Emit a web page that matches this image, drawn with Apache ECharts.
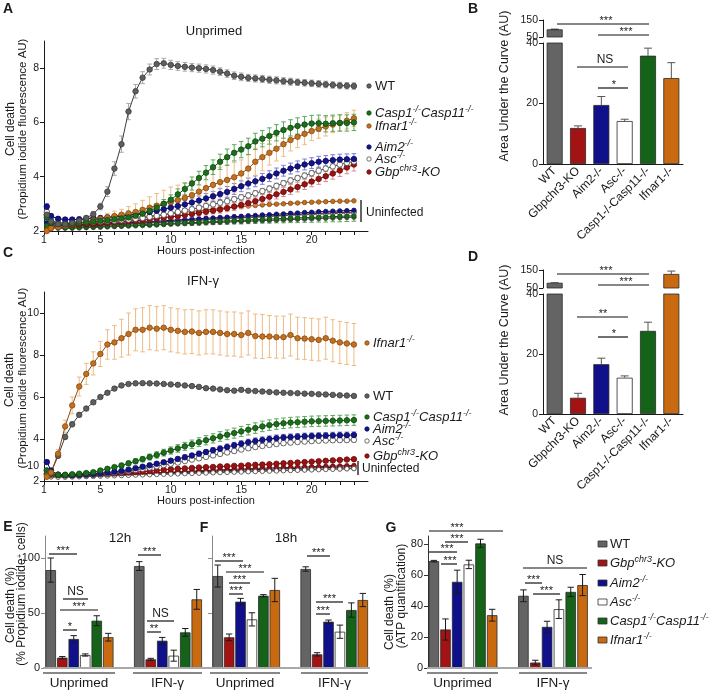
<!DOCTYPE html>
<html><head><meta charset="utf-8">
<script src="https://cdn.jsdelivr.net/npm/echarts@6/dist/echarts.min.js"></script>
<style>html,body{margin:0;padding:0;background:#fff}#c{width:716px;height:691px}</style>
</head><body><div id="c"></div>
<script>
const FONT = "'Liberation Sans', Arial, Helvetica, sans-serif";

// ---------------- DATA ----------------
const genotypes = ['WT','Gbpchr3-KO','Aim2-/-','Asc-/-','Casp1-/-Casp11-/-','Ifnar1-/-'];
const hours = [1.2,1.5,2,2.5,3,3.5,4,4.5,5,5.5,6,6.5,7,7.5,8,8.5,9,9.5,10,10.5,11,11.5,12,12.5,13,13.5,14,14.5,15,15.5,16,16.5,17,17.5,18,18.5,19,19.5,20,20.5,21,21.5,22,22.5,23];
const xTickLabels = [1,5,10,15,20];

// Panel A (unprimed kinetics)
const aWT = [2.6,2.35,2.25,2.25,2.3,2.38,2.48,2.62,2.9,3.45, 4.3,5.2,6.4,7.15,7.65,7.95,8.15,8.18,8.12,8.08, 8.05,8.02,8.0,7.97,7.93,7.87,7.8,7.72,7.68,7.64, 7.62,7.6,7.57,7.55,7.52,7.5,7.48,7.46,7.44,7.42, 7.4,7.38,7.36,7.35,7.34];
const aWTErr = [0.1,0.08,0.06,0.06,0.06,0.06,0.08,0.1,0.12,0.18, 0.25,0.3,0.3,0.25,0.22,0.2,0.2,0.18,0.17,0.16, 0.16,0.15,0.15,0.15,0.15,0.14,0.14,0.14,0.14,0.13, 0.13,0.13,0.13,0.13,0.13,0.13,0.12,0.12,0.12,0.12, 0.12,0.12,0.12,0.12,0.12];
const aCasp = [2.5,2.3,2.25,2.25,2.27,2.3,2.32,2.35,2.38,2.4, 2.43,2.46,2.5,2.56,2.64,2.74,2.86,3.0,3.15,3.35, 3.55,3.75,3.95,4.15,4.35,4.55,4.72,4.88,5.0,5.12, 5.3,5.4,5.5,5.62,5.72,5.8,5.87,5.92,5.96,5.97, 5.95,5.97,5.98,5.98,6.0];
const aCaspErr = [0.08,0.06,0.06,0.06,0.06,0.06,0.06,0.06,0.06,0.06, 0.07,0.07,0.08,0.08,0.1,0.12,0.14,0.16,0.18,0.2, 0.22,0.24,0.25,0.26,0.27,0.28,0.3,0.3,0.3,0.3, 0.3,0.3,0.3,0.3,0.3,0.3,0.3,0.3,0.3,0.3, 0.3,0.3,0.3,0.3,0.3];
const aIfnar = [2.0,2.1,2.15,2.2,2.25,2.3,2.35,2.4,2.45,2.5, 2.55,2.6,2.65,2.7,2.78,2.86,2.93,3.0,3.07,3.14, 3.22,3.32,3.45,3.58,3.7,3.8,3.88,3.98,4.12,4.3, 4.55,4.72,4.88,5.03,5.2,5.35,5.47,5.58,5.68,5.77, 5.85,5.92,5.98,6.06,6.15];
const aIfnarErr = [0.05,0.05,0.05,0.05,0.05,0.06,0.08,0.1,0.12,0.15, 0.18,0.2,0.25,0.3,0.35,0.4,0.45,0.5,0.55,0.55, 0.55,0.55,0.55,0.55,0.55,0.55,0.55,0.55,0.5,0.5, 0.5,0.5,0.45,0.45,0.45,0.4,0.4,0.4,0.35,0.35, 0.35,0.3,0.3,0.3,0.3];
const aAim2 = [2.9,2.55,2.45,2.42,2.42,2.43,2.45,2.47,2.48,2.5, 2.52,2.55,2.58,2.62,2.66,2.7,2.75,2.8,2.86,2.92, 2.98,3.05,3.12,3.2,3.28,3.36,3.44,3.55,3.65,3.75, 3.83,3.92,4.02,4.12,4.22,4.3,4.38,4.45,4.5,4.55, 4.58,4.61,4.63,4.64,4.65];
const aAim2Err = [0.1,0.08,0.08,0.08,0.08,0.08,0.08,0.08,0.08,0.08, 0.08,0.08,0.1,0.1,0.1,0.12,0.12,0.12,0.14,0.14, 0.15,0.16,0.17,0.18,0.18,0.2,0.2,0.2,0.2,0.2, 0.2,0.2,0.2,0.2,0.2,0.2,0.2,0.2,0.2,0.2, 0.2,0.2,0.2,0.2,0.2];
const aAsc = [2.7,2.4,2.3,2.3,2.3,2.3,2.32,2.33,2.35,2.37, 2.38,2.4,2.42,2.45,2.48,2.52,2.56,2.6,2.65,2.7, 2.75,2.8,2.86,2.92,2.98,3.04,3.1,3.17,3.24,3.31, 3.39,3.47,3.56,3.66,3.76,3.86,3.95,4.04,4.13,4.22, 4.3,4.38,4.45,4.51,4.56];
const aAscErr = [0.06,0.05,0.05,0.05,0.05,0.05,0.05,0.05,0.05,0.05, 0.05,0.05,0.05,0.06,0.06,0.06,0.06,0.07,0.07,0.07, 0.08,0.08,0.08,0.08,0.09,0.09,0.09,0.1,0.1,0.1, 0.1,0.1,0.1,0.1,0.1,0.1,0.1,0.1,0.1,0.1, 0.1,0.1,0.1,0.1,0.1];
const aGbp = [2.6,2.3,2.25,2.23,2.23,2.24,2.25,2.26,2.28,2.3, 2.32,2.34,2.36,2.38,2.4,2.43,2.46,2.49,2.52,2.55, 2.59,2.63,2.67,2.71,2.75,2.79,2.84,2.9,2.96,3.03, 3.1,3.18,3.26,3.35,3.44,3.53,3.62,3.72,3.82,3.92, 4.02,4.12,4.23,4.34,4.45];
const aGbpErr = [0.08,0.06,0.05,0.05,0.05,0.05,0.05,0.05,0.05,0.05, 0.06,0.06,0.06,0.07,0.07,0.08,0.08,0.09,0.09,0.1, 0.1,0.11,0.11,0.12,0.12,0.13,0.13,0.14,0.14,0.15, 0.15,0.16,0.16,0.17,0.17,0.18,0.18,0.19,0.19,0.2, 0.2,0.21,0.22,0.23,0.24];
const aUnIfnar = [2.05,2.1,2.15,2.18,2.2,2.23,2.26,2.29,2.33,2.37, 2.41,2.44,2.47,2.5,2.53,2.56,2.58,2.6,2.63,2.66, 2.69,2.72,2.75,2.78,2.8,2.83,2.86,2.88,2.9,2.92, 2.94,2.96,2.98,2.99,3.0,3.02,3.03,3.05,3.06,3.07, 3.08,3.09,3.1,3.1,3.11];
const aUnAim2 = [2.3,2.25,2.2,2.2,2.21,2.22,2.23,2.24,2.25,2.26, 2.28,2.29,2.3,2.32,2.33,2.35,2.36,2.38,2.39,2.41, 2.42,2.44,2.45,2.47,2.48,2.5,2.51,2.53,2.54,2.56, 2.57,2.59,2.6,2.62,2.63,2.65,2.66,2.68,2.69,2.71, 2.72,2.73,2.74,2.75,2.76];
const aUnGbp = [2.2,2.18,2.16,2.16,2.17,2.18,2.19,2.2,2.21,2.22, 2.23,2.24,2.25,2.27,2.28,2.3,2.31,2.33,2.34,2.36, 2.37,2.39,2.4,2.42,2.43,2.45,2.46,2.48,2.49,2.51, 2.52,2.54,2.55,2.57,2.58,2.6,2.61,2.62,2.64,2.65, 2.66,2.67,2.68,2.69,2.7];
const aUnWT = [2.15,2.12,2.1,2.1,2.1,2.11,2.12,2.13,2.14,2.15, 2.16,2.17,2.18,2.19,2.2,2.21,2.22,2.24,2.25,2.26, 2.27,2.28,2.29,2.3,2.31,2.32,2.33,2.34,2.35,2.36, 2.37,2.38,2.39,2.4,2.41,2.42,2.43,2.44,2.45,2.46, 2.47,2.48,2.49,2.5,2.51];
const aUnCasp = [2.2,2.15,2.12,2.12,2.13,2.14,2.15,2.16,2.17,2.18, 2.19,2.2,2.21,2.22,2.23,2.24,2.25,2.26,2.28,2.29, 2.3,2.31,2.32,2.33,2.35,2.36,2.37,2.38,2.39,2.4, 2.42,2.43,2.44,2.45,2.46,2.47,2.48,2.49,2.5,2.51, 2.52,2.53,2.54,2.55,2.56];
const aUnCaspErr = [0.03,0.03,0.03,0.03,0.03,0.03,0.03,0.04,0.04,0.04, 0.04,0.05,0.05,0.05,0.06,0.06,0.07,0.07,0.08,0.08, 0.09,0.09,0.1,0.1,0.11,0.11,0.12,0.12,0.13,0.13, 0.14,0.14,0.15,0.15,0.16,0.16,0.17,0.17,0.18,0.18, 0.19,0.19,0.2,0.2,0.2];
const aUnAsc = [2.25,2.2,2.18,2.18,2.19,2.2,2.21,2.22,2.23,2.24, 2.25,2.26,2.27,2.28,2.3,2.31,2.32,2.34,2.35,2.36, 2.38,2.39,2.4,2.42,2.43,2.44,2.46,2.47,2.48,2.5, 2.51,2.52,2.54,2.55,2.56,2.58,2.59,2.6,2.61,2.62, 2.63,2.64,2.65,2.66,2.67];

// Panel C (IFN-gamma kinetics)
const cIfnar = [2.2,2.4,3.3,4.6,5.6,6.5,7.1,7.6,8.05,8.5, 8.6,8.8,9.0,9.2,9.2,9.3,9.25,9.3,9.2,9.15, 9.1,9.12,9.05,9.1,9.1,9.05,9.0,9.0,8.95,9.05, 8.9,8.88,8.88,8.85,8.85,8.95,8.8,8.78,8.75,8.72, 8.8,8.68,8.6,8.55,8.5];
const cIfnarErr = [0.05,0.1,0.2,0.3,0.4,0.45,0.5,0.55,0.6,0.7, 0.8,0.9,1.0,1.0,1.05,1.05,1.05,1.05,1.05,1.05, 1.05,1.05,1.05,1.05,1.05,1.05,1.05,1.05,1.05,1.05, 1.05,1.05,1.0,1.0,1.0,1.0,1.0,1.0,1.0,1.0, 1.0,1.0,1.0,1.0,1.0];
const cWT = [2.3,2.4,3.2,4.1,4.7,5.15,5.45,5.75,6.0,6.2, 6.4,6.55,6.62,6.65,6.66,6.65,6.64,6.62,6.6,6.58, 6.55,6.52,6.48,6.42,6.4,6.36,6.32,6.3,6.34,6.3, 6.28,6.26,6.24,6.22,6.2,6.19,6.18,6.16,6.15,6.13, 6.12,6.1,6.08,6.07,6.05];
const cWTErr = [0.05,0.06,0.1,0.12,0.12,0.1,0.1,0.1,0.08,0.08, 0.08,0.08,0.07,0.07,0.07,0.07,0.07,0.07,0.07,0.07, 0.07,0.07,0.07,0.07,0.07,0.07,0.07,0.07,0.07,0.07, 0.07,0.07,0.07,0.07,0.07,0.07,0.07,0.07,0.07,0.07, 0.07,0.07,0.07,0.07,0.07];
const cCasp = [2.5,2.35,2.3,2.3,2.32,2.35,2.38,2.42,2.5,2.58, 2.66,2.74,2.84,2.94,3.04,3.14,3.24,3.35,3.45,3.55, 3.65,3.75,3.85,3.94,4.03,4.12,4.2,4.28,4.36,4.44, 4.52,4.6,4.66,4.71,4.75,4.78,4.8,4.82,4.84,4.85, 4.86,4.87,4.88,4.89,4.9];
const cCaspErr = [0.05,0.05,0.05,0.05,0.05,0.05,0.06,0.06,0.07,0.08, 0.09,0.1,0.11,0.12,0.13,0.14,0.15,0.16,0.17,0.18, 0.19,0.2,0.21,0.22,0.22,0.23,0.23,0.24,0.24,0.25, 0.25,0.25,0.25,0.25,0.25,0.25,0.25,0.25,0.25,0.25, 0.25,0.25,0.25,0.25,0.25];
const cAim2 = [2.9,2.5,2.3,2.28,2.28,2.3,2.32,2.34,2.37,2.4, 2.44,2.48,2.54,2.61,2.68,2.75,2.82,2.89,2.97,3.05, 3.13,3.21,3.3,3.38,3.46,3.54,3.62,3.7,3.77,3.84, 3.9,3.95,4.0,4.04,4.07,4.09,4.11,4.13,4.14,4.15, 4.16,4.17,4.18,4.18,4.19];
const cAim2Err = [0.1,0.06,0.05,0.05,0.05,0.05,0.05,0.05,0.05,0.05, 0.06,0.06,0.07,0.07,0.08,0.08,0.09,0.09,0.1,0.1, 0.11,0.11,0.12,0.12,0.13,0.13,0.14,0.14,0.15,0.15, 0.15,0.15,0.15,0.15,0.15,0.15,0.15,0.15,0.15,0.15, 0.15,0.15,0.15,0.15,0.15];
const cAsc = [2.5,2.35,2.3,2.28,2.28,2.29,2.3,2.32,2.34,2.37, 2.4,2.44,2.48,2.53,2.58,2.64,2.7,2.76,2.82,2.88, 2.95,3.02,3.08,3.15,3.22,3.29,3.36,3.43,3.5,3.56, 3.62,3.67,3.72,3.76,3.8,3.83,3.86,3.88,3.9,3.92, 3.93,3.94,3.95,3.95,3.96];
const cAscErr = [0.05,0.05,0.05,0.05,0.05,0.05,0.05,0.05,0.05,0.05, 0.05,0.05,0.06,0.06,0.06,0.07,0.07,0.07,0.08,0.08, 0.08,0.09,0.09,0.09,0.1,0.1,0.1,0.1,0.1,0.1, 0.1,0.1,0.1,0.1,0.1,0.1,0.1,0.1,0.1,0.1, 0.1,0.1,0.1,0.1,0.1];
const cGbp = [2.35,2.3,2.28,2.27,2.27,2.28,2.29,2.3,2.32,2.34, 2.36,2.38,2.4,2.42,2.44,2.47,2.5,2.53,2.56,2.58, 2.6,2.62,2.64,2.66,2.67,2.69,2.7,2.72,2.73,2.75, 2.77,2.78,2.8,2.82,2.84,2.86,2.88,2.9,2.92,2.94, 2.96,2.98,3.0,3.02,3.04];
const cGbpErr = [0.05,0.05,0.04,0.04,0.04,0.04,0.04,0.04,0.04,0.04, 0.04,0.04,0.04,0.04,0.05,0.05,0.05,0.05,0.05,0.05, 0.05,0.05,0.05,0.05,0.05,0.05,0.05,0.05,0.05,0.05, 0.06,0.06,0.06,0.06,0.06,0.06,0.06,0.06,0.06,0.06, 0.06,0.06,0.06,0.06,0.06];
const cUnWT = [2.25,2.2,2.18,2.18,2.19,2.2,2.21,2.22,2.23,2.24, 2.25,2.26,2.27,2.28,2.29,2.3,2.31,2.32,2.33,2.34, 2.35,2.36,2.37,2.38,2.39,2.4,2.41,2.42,2.43,2.44, 2.45,2.46,2.47,2.48,2.49,2.5,2.51,2.52,2.53,2.54, 2.55,2.56,2.57,2.58,2.59];
const cUnGbp = [2.3,2.25,2.22,2.22,2.23,2.24,2.25,2.26,2.28,2.29, 2.3,2.32,2.33,2.35,2.36,2.38,2.39,2.41,2.42,2.44, 2.45,2.47,2.48,2.5,2.51,2.53,2.54,2.56,2.57,2.58, 2.6,2.61,2.62,2.63,2.64,2.65,2.66,2.67,2.68,2.69, 2.7,2.71,2.72,2.73,2.74];
const cUnAim2 = [2.4,2.3,2.26,2.25,2.25,2.26,2.27,2.28,2.29,2.3, 2.31,2.32,2.33,2.34,2.35,2.36,2.38,2.39,2.4,2.41, 2.42,2.43,2.45,2.46,2.47,2.48,2.49,2.5,2.52,2.53, 2.54,2.55,2.56,2.57,2.58,2.59,2.6,2.61,2.62,2.63, 2.64,2.65,2.66,2.67,2.68];
const cUnIfnar = [2.2,2.2,2.2,2.21,2.22,2.23,2.24,2.25,2.26,2.27, 2.28,2.29,2.3,2.31,2.32,2.33,2.34,2.35,2.36,2.37, 2.38,2.39,2.4,2.41,2.42,2.43,2.44,2.45,2.46,2.47, 2.48,2.49,2.5,2.5,2.51,2.52,2.53,2.54,2.55,2.56, 2.57,2.58,2.58,2.59,2.6];

// Panels B / D (area under the curve)
const aucUnprimed = [95, 11.9, 19.5, 14.2, 35.8, 28.4];
const aucUnprimedErr = [1, 0.7, 2.8, 0.6, 2.5, 5.1];
const aucIfng = [79, 5.4, 16.6, 12.1, 27.7, 128];
const aucIfngErr = [1, 1.5, 2, 0.6, 2.9, 16];
const aucLowTicks = [0, 20, 40];
const aucHighTicks = [50, 150];

// Panels E / F (% PI+ cells) and G (ATP)
const e12Unprimed = [89, 9.4, 26.4, 11.8, 43, 28];
const e12UnprimedErr = [11, 1, 3, 1, 4.5, 3.5];
const e12Ifng = [92.7, 7.9, 24.8, 11.2, 32.4, 62.4];
const e12IfngErr = [4, 0.9, 3, 5, 3.5, 9];
const f18Unprimed = [83.6, 27.9, 60.3, 44.2, 65.7, 70.9];
const f18UnprimedErr = [10, 3, 3, 6, 1, 10.6];
const f18Ifng = [90, 12.4, 42.1, 33, 52.7, 61.8];
const f18IfngErr = [2, 1.5, 1.5, 6, 6.5, 6];
const gAtpUnprimed = [68.8, 24.8, 55.5, 66.7, 80.2, 34];
const gAtpUnprimedErr = [0.5, 6.8, 7.5, 2.7, 2.7, 3.8];
const gAtpIfng = [46.5, 3.5, 26.5, 37.9, 49, 53.4];
const gAtpIfngErr = [3.8, 1.5, 3.6, 6, 3, 6.8];
const pctTicks = [0, 50, 100];
const atpTicks = [0, 20, 40, 60, 80];

// ---------------- STYLE ----------------
const sty = {
  WT:    {fill:'#5e5e5e', stroke:'#3c3c3c', err:'#a9a9a9'},
  Gbp:   {fill:'#9a1212', stroke:'#6a0a0a', err:'#d98c8c'},
  Aim2:  {fill:'#14148a', stroke:'#0a0a5c', err:'#7d7dd8'},
  Asc:   {fill:'#ffffff', stroke:'#4a4a4a', err:'#9a9a9a'},
  Casp:  {fill:'#1c6d1c', stroke:'#0e4a0e', err:'#5ca85c'},
  Ifnar: {fill:'#c2701e', stroke:'#8a4a10', err:'#edbb85'}
};
const barFill = ['#646464','#a31313','#10108a','#ffffff','#146318','#c96a10'];

const chart = echarts.init(document.getElementById('c'), null, {renderer:'canvas'});

function lineS(g, vals, key, size, z){
  return {type:'line', xAxisIndex:g, yAxisIndex:g, data: hours.map((h,i)=>[h, vals[i]]),
    symbol:'circle', symbolSize:size, showSymbol:true, silent:true, z:z,
    lineStyle:{color:sty[key].stroke, width:1},
    itemStyle:{color:sty[key].fill, borderColor:sty[key].stroke, borderWidth:0.8}};
}
function errRender(cap, color, oneSided){
  return function(params, api){
    const x = api.value(0), lo = api.value(1), hi = api.value(2);
    const a = api.coord([x, lo]), b = api.coord([x, hi]);
    const st = {stroke:color, lineWidth:1};
    const ch = [
      {type:'line', shape:{x1:a[0], y1:a[1], x2:b[0], y2:b[1]}, style:st},
      {type:'line', shape:{x1:b[0]-cap, y1:b[1], x2:b[0]+cap, y2:b[1]}, style:st}];
    if (!oneSided) ch.push({type:'line', shape:{x1:a[0]-cap, y1:a[1], x2:a[0]+cap, y2:a[1]}, style:st});
    return {type:'group', children:ch};
  };
}
function errLineS(g, vals, errs, key, z){
  return {type:'custom', xAxisIndex:g, yAxisIndex:g, silent:true, z:z, encode:{x:0, y:[1,2]},
    data: hours.map((h,i)=>[h, vals[i]-errs[i], vals[i]+errs[i]]),
    renderItem: errRender(2.3, sty[key].err, false)};
}
function barS(g, vals, bw){
  return {type:'bar', xAxisIndex:g, yAxisIndex:g, barWidth:bw, silent:true, z:2,
    data: vals.map((v,i)=>({value:v, itemStyle:{color:barFill[i], borderColor:'#2a2a2a', borderWidth:0.8}}))};
}
// keep: predicate choosing which bars get an error bar in this grid
function errBarS(g, vals, errs, cap, oneSided, color, keep){
  const d = [];
  vals.forEach((v,i)=>{ if (!keep || keep(v)) d.push([i, oneSided ? v : v-errs[i], v+errs[i]]); });
  return {type:'custom', xAxisIndex:g, yAxisIndex:g, silent:true, z:3, encode:{x:0, y:[1,2]},
    data: d, renderItem: errRender(cap, color, oneSided)};
}

// ---------------- AXES ----------------
const axTxt = {fontFamily:FONT, color:'#1a1a1a', fontSize:10.5};
function timeX(g){
  return {type:'value', gridIndex:g, min:1, max:24, interval:1,
    axisLine:{show:true, lineStyle:{color:'#1a1a1a', width:1}},
    axisTick:{show:true, length:4, lineStyle:{color:'#1a1a1a'}},
    axisLabel:Object.assign({margin:4, showMinLabel:true, showMaxLabel:false,
      formatter:v => xTickLabels.indexOf(v) >= 0 ? String(v) : ''}, axTxt),
    splitLine:{show:false}};
}
function valY(g, min, max, ticks, opts){
  opts = opts || {};
  return {type:'value', gridIndex:g, min:min, max:max, show: opts.hide ? false : true,
    axisLine:{show:true, lineStyle:{color: opts.lineColor || '#1a1a1a', width:1}},
    axisTick:{show:true, length:4, customValues:ticks, lineStyle:{color: opts.lineColor || '#1a1a1a'}},
    axisLabel:Object.assign({show: !opts.noLabel, customValues:ticks, margin:5}, axTxt, {fontSize: opts.fs || 10.5}),
    splitLine:{show:false}};
}
function catX(g, show){
  return {type:'category', gridIndex:g, data:genotypes, show:show,
    axisLine:{show:show, lineStyle:{color:'#1a1a1a'}}, axisTick:{show:false},
    axisLabel:Object.assign({rotate:45, interval:0, margin:5}, axTxt, {fontSize:12})};
}

const grids = [
  {left:44, top:41, width:324, height:190},
  {left:44, top:292, width:324, height:189},
  {left:543, top:43, width:140, height:121},
  {left:543, top:20, width:140, height:17},
  {left:543, top:294, width:140, height:120},
  {left:543, top:270, width:140, height:18},
  {left:45, top:536, width:69, height:132},
  {left:133.5, top:536, width:69, height:132},
  {left:212, top:536, width:68.5, height:132},
  {left:300, top:536, width:68.5, height:132},
  {left:428, top:536, width:70, height:132},
  {left:517.5, top:536, width:71, height:132}
];

const xAxes = [timeX(0), timeX(1), catX(2,true), catX(3,false), catX(4,true), catX(5,false),
  catX(6,false), catX(7,false), catX(8,false), catX(9,false), catX(10,false), catX(11,false)];
const yAxes = [
  valY(0, 2, 9, [2,4,6,8]),
  valY(1, 2, 11, [2,4,6,8,10]),
  valY(2, 0, 40, aucLowTicks),
  valY(3, 50, 150, aucHighTicks),
  valY(4, 0, 40, aucLowTicks),
  valY(5, 50, 150, aucHighTicks),
  valY(6, 0, 120, pctTicks, {lineColor:'#8a8a8a', fs:11}),
  valY(7, 0, 120, pctTicks, {hide:true}),
  valY(8, 0, 120, pctTicks, {lineColor:'#8a8a8a', noLabel:true}),
  valY(9, 0, 120, pctTicks, {hide:true}),
  valY(10, 0, 85, atpTicks, {lineColor:'#333', fs:11}),
  valY(11, 0, 85, atpTicks, {hide:true})
];

// ---------------- SERIES ----------------
const series = [];
// A uninfected
series.push(lineS(0, aUnWT, 'WT', 4.5, 2));
series.push(lineS(0, aUnGbp, 'Gbp', 4.5, 2));
series.push(lineS(0, aUnAsc, 'Asc', 4.5, 2));
series.push(lineS(0, aUnAim2, 'Aim2', 4.5, 2));
series.push(errLineS(0, aUnCasp, aUnCaspErr, 'Casp', 2));
series.push(lineS(0, aUnCasp, 'Casp', 4.5, 2));
series.push(lineS(0, aUnIfnar, 'Ifnar', 4.5, 2));
// A infected
[[aGbp,aGbpErr,'Gbp'],[aAsc,aAscErr,'Asc'],[aAim2,aAim2Err,'Aim2'],[aIfnar,aIfnarErr,'Ifnar'],[aCasp,aCaspErr,'Casp'],[aWT,aWTErr,'WT']].forEach(s=>{
  series.push(errLineS(0, s[0], s[1], s[2], 3));
  series.push(lineS(0, s[0], s[2], 5.5, 3));
});
// C uninfected
series.push(lineS(1, cUnIfnar, 'Ifnar', 4.5, 2));
series.push(lineS(1, cUnAim2, 'Aim2', 4.5, 2));
series.push(lineS(1, cUnGbp, 'Gbp', 4.5, 2));
series.push(lineS(1, cUnWT, 'Asc', 4.5, 2));
// C infected
[[cGbp,cGbpErr,'Gbp'],[cAsc,cAscErr,'Asc'],[cAim2,cAim2Err,'Aim2'],[cCasp,cCaspErr,'Casp'],[cWT,cWTErr,'WT'],[cIfnar,cIfnarErr,'Ifnar']].forEach(s=>{
  series.push(errLineS(1, s[0], s[1], s[2], 3));
  series.push(lineS(1, s[0], s[2], 5.5, 3));
});
// B / D (broken axis: lower 0-40, upper 50-150)
const inLow = v => v <= 40, inHigh = v => v > 50;
series.push(barS(2, aucUnprimed, 16));
series.push(errBarS(2, aucUnprimed, aucUnprimedErr, 4, true, '#555', inLow));
series.push(barS(3, aucUnprimed.map(v => inHigh(v) ? v : '-'), 16));
series.push(errBarS(3, aucUnprimed, aucUnprimedErr, 4, true, '#222', inHigh));
series.push(barS(4, aucIfng, 16));
series.push(errBarS(4, aucIfng, aucIfngErr, 4, true, '#555', inLow));
series.push(barS(5, aucIfng.map(v => inHigh(v) ? v : '-'), 16));
series.push(errBarS(5, aucIfng, aucIfngErr, 4, true, '#555', inHigh));
// E / F / G
[[6,e12Unprimed,e12UnprimedErr],[7,e12Ifng,e12IfngErr],[8,f18Unprimed,f18UnprimedErr],[9,f18Ifng,f18IfngErr],[10,gAtpUnprimed,gAtpUnprimedErr],[11,gAtpIfng,gAtpIfngErr]].forEach(s=>{
  series.push(barS(s[0], s[1], 10.5));
  series.push(errBarS(s[0], s[1], s[2], 3.2, false, '#1a1a1a'));
});

// ---------------- ANNOTATIONS (layout) ----------------
const G = [];
function txt(x, y, t, o){
  o = o || {};
  G.push({type:'text', x:x, y:y, rotation:o.rot || 0, z:50, style:{text:t, fill:o.fill || '#1a1a1a',
    fontSize:o.fs || 12, fontFamily:FONT, fontWeight:o.fw || 'normal', fontStyle:o.it ? 'italic' : 'normal',
    align:o.align || 'center', verticalAlign:o.va || 'middle', rich:o.rich}});
}
function ln(x1, y1, x2, y2, c, w){
  G.push({type:'line', z:50, shape:{x1:x1, y1:y1, x2:x2, y2:y2}, style:{stroke:c || '#111', lineWidth:w || 1.2}});
}
function sig(x1, x2, y, t, tx){
  ln(x1, y, x2, y);
  const star = t.indexOf('*') >= 0;
  txt(tx != null ? tx : (x1+x2)/2, star ? y-3 : y-1, t, {fs: star ? 11 : 12, va: star ? 'middle' : 'bottom'});
}
const richLeg = {
  r:{fontSize:13, fontFamily:FONT, lineHeight:16, fill:'#1a1a1a'},
  i:{fontSize:13, fontFamily:FONT, fontStyle:'italic', lineHeight:16, fill:'#1a1a1a'},
  s:{fontSize:9, fontFamily:FONT, fontStyle:'italic', lineHeight:9, verticalAlign:'top', fill:'#1a1a1a'}
};
const legText = {
  WT:'{r|WT}', Gbp:'{i|Gbp}{s|chr3}{i|-KO}', Aim2:'{i|Aim2}{s|-/-}', Asc:'{i|Asc}{s|-/-}',
  Casp:'{i|Casp1}{s|-/-}{i|Casp11}{s|-/-}', Ifnar:'{i|Ifnar1}{s|-/-}'
};
function dotLeg(x, y, key){
  G.push({type:'circle', z:50, shape:{cx:x, cy:y, r:2.2}, style:{fill:sty[key].fill, stroke:sty[key].stroke, lineWidth:0.8}});
  txt(x+6, y, legText[key], {align:'left', rich:richLeg});
}

// panel letters
[['A',8,9],['B',473,9],['C',8,253],['D',473,257],['E',8,527],['F',204,528],['G',391,528]].forEach(p=>txt(p[1], p[2], p[0], {fs:14, fw:'bold'}));

// A
txt(214, 31, 'Unprimed', {fs:13});
txt(206, 251, 'Hours post-infection', {fs:11});
txt(11, 129, 'Cell death', {fs:12, rot:Math.PI/2});
txt(22.5, 129, '(Propidium iodide fluorescence AU)', {fs:11.5, rot:Math.PI/2});
dotLeg(369, 86, 'WT'); dotLeg(369, 113, 'Casp'); dotLeg(369, 126, 'Ifnar');
dotLeg(369, 147, 'Aim2'); dotLeg(369, 159, 'Asc'); dotLeg(369, 172, 'Gbp');
ln(361, 200, 361, 222, '#111', 1.3);
txt(366, 213, 'Uninfected', {fs:12, align:'left'});

// C
txt(203, 281, 'IFN-\u03b3', {fs:13});
txt(206, 501, 'Hours post-infection', {fs:11});
txt(10, 380, 'Cell death', {fs:12, rot:Math.PI/2});
txt(22.5, 378, '(Propidium iodide fluorescence AU)', {fs:11.5, rot:Math.PI/2});
txt(39, 466, '10', {fs:10.5, align:'right'});
dotLeg(367, 343, 'Ifnar'); dotLeg(367, 396, 'WT'); dotLeg(367, 417, 'Casp');
dotLeg(367, 429, 'Aim2'); dotLeg(367, 441, 'Asc'); dotLeg(367, 456, 'Gbp');
ln(358, 461, 358, 475, '#111', 1.3);
txt(362, 469, 'Uninfected', {fs:12, align:'left'});

// B
txt(505, 86, 'Area Under the Curve (AU)', {fs:12.5, rot:Math.PI/2});
sig(557, 649, 24, '***', 606); sig(598, 649, 35, '***', 626);
sig(577, 628, 67, 'NS', 605); sig(598, 628, 88, '*', 614);
// D
txt(505, 340, 'Area Under the Curve (AU)', {fs:12.5, rot:Math.PI/2});
sig(557, 649, 274, '***', 606); sig(598, 649, 285, '***', 626);
sig(577, 628, 317, '**', 603); sig(598, 628, 337, '*', 614);

// E / F baseline and groups
ln(43, 668, 370, 668, '#a8a8a8', 2);
ln(427, 668, 592, 668, '#a8a8a8', 2);
[[43,115,'Unprimed'],[133,202,'IFN-\u03b3'],[210,280,'Unprimed'],[301,368,'IFN-\u03b3'],[427,498,'Unprimed'],[519,587,'IFN-\u03b3']].forEach(u=>{
  ln(u[0], 673, u[1], 673, '#111', 1.2);
  txt((u[0]+u[1])/2, 683, u[2], {fs:13.5});
});
txt(120, 538, '12h', {fs:13.5});
txt(286, 538, '18h', {fs:13.5});
txt(10.5, 605, 'Cell death (%)', {fs:12, rot:Math.PI/2});
txt(22, 594, '(% Propidium iodide{s|+} cells)', {fs:12, rot:Math.PI/2,
  rich:{s:{fontSize:8, fontFamily:FONT, lineHeight:8, verticalAlign:'top', fill:'#1a1a1a'}}});
sig(49, 77, 554, '***'); sig(63, 88, 599, 'NS'); sig(60, 98, 610, '***'); sig(63, 77, 630, '*');
sig(138, 161, 555, '***'); sig(147, 174, 621, 'NS'); sig(147, 161, 632, '**');
sig(215, 243, 561, '***'); sig(226, 264, 572, '***'); sig(229, 250, 583, '***'); sig(229, 243, 594, '***');
sig(307, 330, 556, '***'); sig(316, 343, 602, '***'); sig(316, 330, 614, '***');

// G
txt(390, 612, 'Cell death (%)', {fs:12, rot:Math.PI/2});
txt(402, 596, '(ATP quantification)', {fs:12, rot:Math.PI/2});
sig(429, 503, 531, '***', 457); sig(445, 468, 542, '***', 457);
sig(429, 457, 552, '***', 447); sig(441, 457, 564, '***', 450);
sig(523, 587, 568, 'NS', 555); sig(525, 542, 583, '***'); sig(533, 560, 594, '***');
const gLeg = [['WT',544],['Gbp',563],['Aim2',583],['Asc',602],['Casp',621],['Ifnar',640]];
gLeg.forEach((l, i)=>{
  G.push({type:'rect', z:50, shape:{x:598, y:l[1]-3, width:9, height:6}, style:{fill:barFill[i], stroke:'#333', lineWidth:0.8}});
  txt(610, l[1], legText[l[0]], {align:'left', rich:richLeg});
});

chart.setOption({
  animation:false,
  backgroundColor:'#ffffff',
  textStyle:{fontFamily:FONT},
  grid:grids, xAxis:xAxes, yAxis:yAxes, series:series, graphic:G
});
</script></body></html>
